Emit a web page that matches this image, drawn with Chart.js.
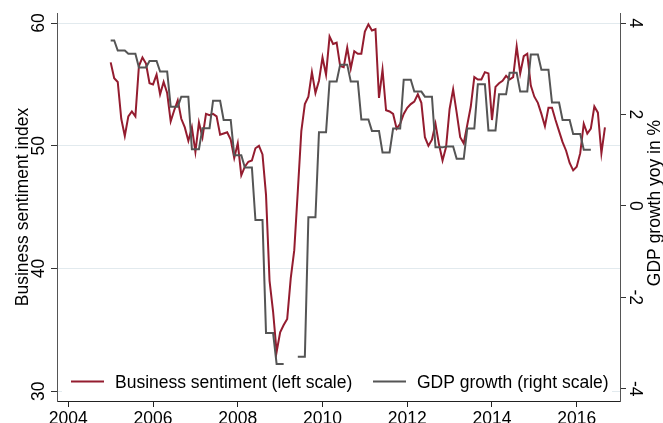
<!DOCTYPE html>
<html>
<head>
<meta charset="utf-8">
<script src="https://cdn.jsdelivr.net/npm/chart.js@4.4.1/dist/chart.umd.min.js"></script>
<style>
  html, body { margin: 0; padding: 0; background: #fff; }
  #wrap { width: 663px; height: 423px; }
</style>
</head>
<body>
<div id="wrap"><canvas id="chart" width="663" height="423"></canvas></div>
<script>
// business sentiment index, monthly from Jan 2005
const sentimentStart = 2005;
const sentiment = [
  56.8, 55.5, 55.2, 52.2, 50.8, 52.4, 52.8, 52.4, 56.5, 57.2, 56.7, 55.1, // 2005
  55.0, 55.8, 54.2, 55.2, 54.3, 52.0, 52.9, 53.7, 52.2, 51.5, 50.4, 51.5, // 2006
  49.5, 51.9, 50.7, 52.6, 52.5, 52.6, 52.4, 50.9, 51.0, 51.1, 50.5, 49.0, // 2007
  50.2, 47.6, 48.3, 48.7, 48.8, 49.8, 50.0, 49.3, 46.0, 39.0, 36.5, 33.2, // 2008
  34.8, 35.4, 35.9, 39.2, 41.5, 46.3, 51.2, 53.4, 54.0, 56.0, 54.3, 55.3, // 2009
  57.2, 55.8, 58.9, 58.3, 58.4, 56.5, 56.4, 58.0, 56.3, 57.7, 57.5, 57.5, // 2010
  59.3, 59.9, 59.4, 59.5, 53.9, 56.2, 52.9, 52.8, 52.6, 51.4, 51.8, 52.6, // 2011
  53.1, 53.4, 53.6, 54.2, 53.5, 50.7, 50.0, 50.5, 51.8, 50.1, 48.8, 49.9, // 2012
  53.0, 54.6, 52.7, 50.7, 50.2, 51.7, 53.2, 55.6, 55.4, 55.4, 56.0, 55.9, // 2013
  52.1, 54.8, 55.1, 55.3, 55.7, 55.4, 55.6, 58.1, 55.9, 57.3, 57.5, 54.9, // 2014
  54.0, 53.5, 52.6, 51.6, 53.1, 53.1, 52.1, 51.2, 50.3, 49.6, 48.6, 48.0, // 2015
  48.3, 49.4, 51.8, 51.0, 51.4, 53.2, 52.7, 49.4, 51.5                    // 2016
];

// GDP growth yoy in %, quarterly from 2005Q1 (2009Q2 falls below the scale, left out)
const gdpStart = 2005;
const gdpGrowth = [
  3.62, 3.40, 3.33, 3.03,   // 2005
  3.17, 2.94, 2.17, 2.39,   // 2006
  1.24, 1.70, 2.30, 1.88,   // 2007
  1.11, 0.84, -0.31, -2.78, // 2008
  -3.46, null, -3.30, -0.25, // 2009
  1.61, 2.72, 3.09, 2.72,   // 2010
  1.89, 1.64, 1.17, 1.69,   // 2011
  2.76, 2.50, 2.39, 1.28,   // 2012
  1.30, 1.03, 1.69, 2.66,   // 2013
  1.65, 2.44, 2.91, 2.50,   // 2014
  3.31, 2.98, 2.26, 1.88,   // 2015
  1.57, 1.23                // 2016
];

const yearTicks = [2004, 2006, 2008, 2010, 2012, 2014, 2016];
const leftTicks = [30, 40, 50, 60];
const rightTicks = [-4, -2, 0, 2, 4];

const leftTitle = 'Business sentiment index';
const rightTitle = 'GDP growth yoy in %';

const FONT = '17.5px "Liberation Sans", Arial, sans-serif';
const RED = '#941c2f';
const GREY = '#555555';

const sentimentPoints = sentiment.map((v, i) => ({ x: sentimentStart + i / 12, y: v }));

// each quarterly figure is held over the month before, of and after its quarter mark
const gdpPoints = [];
gdpGrowth.forEach((v, q) => {
  for (let d = -1; d <= 1; d++) {
    const m = q * 3 + d;
    if (m < 0) continue;
    gdpPoints.push({ x: gdpStart + m / 12, y: v });
  }
});

const setTicks = list => scale => { scale.ticks = list.map(v => ({ value: v })); };

// rotated y tick labels and both axis titles
const axisText = {
  id: 'axisText',
  afterDraw(chart) {
    const ctx = chart.ctx;
    const L = chart.scales.yLeft, R = chart.scales.yRight, area = chart.chartArea;
    const midY = (area.top + area.bottom) / 2;
    const put = (txt, x, y, rot) => {
      ctx.save();
      ctx.translate(x, y);
      ctx.rotate(rot);
      ctx.fillText(txt, 0, 0);
      ctx.restore();
    };
    ctx.save();
    ctx.fillStyle = '#000';
    ctx.font = FONT;
    ctx.textAlign = 'center';
    ctx.textBaseline = 'alphabetic';
    leftTicks.forEach(v => put(String(v), area.left - 13, L.getPixelForValue(v), -Math.PI / 2));
    rightTicks.forEach(v => put(String(v), area.right + 10, R.getPixelForValue(v), Math.PI / 2));
    put(leftTitle, 28, midY, -Math.PI / 2);
    put(rightTitle, 660, midY - 4, -Math.PI / 2);
    ctx.restore();
  }
};

// legend sits inside the plot, over the bottom grid line
const legendBox = {
  id: 'legendBox',
  afterDatasetsDraw(chart) {
    const ctx = chart.ctx, area = chart.chartArea;
    const starts = [71, 373];
    ctx.save();
    ctx.fillStyle = '#fff';
    ctx.fillRect(area.left + 5, 368, area.right - area.left - 13, 28);
    ctx.font = FONT;
    ctx.textAlign = 'left';
    ctx.textBaseline = 'alphabetic';
    chart.data.datasets.forEach((ds, i) => {
      const x0 = starts[i], y = 381.5;
      ctx.strokeStyle = ds.borderColor;
      ctx.lineWidth = 2;
      ctx.beginPath();
      ctx.moveTo(x0, y);
      ctx.lineTo(x0 + 33, y);
      ctx.stroke();
      ctx.fillStyle = '#000';
      ctx.fillText(ds.label, x0 + 44, 387.5);
    });
    ctx.restore();
  }
};

new Chart(document.getElementById('chart'), {
  type: 'line',
  data: {
    datasets: [
      {
        label: 'Business sentiment (left scale)',
        data: sentimentPoints,
        yAxisID: 'yLeft',
        borderColor: RED,
        borderWidth: 2,
        pointRadius: 0,
        tension: 0,
        order: 1
      },
      {
        label: 'GDP growth (right scale)',
        data: gdpPoints,
        yAxisID: 'yRight',
        borderColor: GREY,
        borderWidth: 2,
        pointRadius: 0,
        tension: 0,
        order: 0
      }
    ]
  },
  options: {
    responsive: false,
    animation: false,
    events: [],
    layout: { padding: { top: 13, left: 0, right: 0, bottom: 0 } },
    plugins: { legend: { display: false }, tooltip: { enabled: false } },
    scales: {
      x: {
        type: 'linear',
        position: 'bottom',
        min: 2003.733,
        max: 2017.022,
        afterBuildTicks: setTicks(yearTicks),
        afterFit: s => { s.height = 22; },
        grid: { drawOnChartArea: false, tickLength: 6, tickColor: '#222', tickWidth: 1 },
        border: { color: '#222', width: 1 },
        ticks: {
          font: { family: '"Liberation Sans", Arial, sans-serif', size: 17.5 },
          color: '#000',
          padding: 2,
          maxRotation: 0,
          callback: v => String(v)
        }
      },
      yLeft: {
        type: 'linear',
        position: 'left',
        min: 29.21,
        max: 60.82,
        afterBuildTicks: setTicks(leftTicks),
        afterFit: s => { s.width = 57; },
        grid: { color: '#e2eaee', lineWidth: 1, tickLength: 6, tickColor: '#333' },
        border: { color: '#555', width: 1 },
        ticks: { display: false }
      },
      yRight: {
        type: 'linear',
        position: 'right',
        min: -4.27,
        max: 4.22,
        afterBuildTicks: setTicks(rightTicks),
        afterFit: s => { s.width = 43; },
        grid: { drawOnChartArea: false, tickLength: 6, tickColor: '#333' },
        border: { color: '#555', width: 1 },
        ticks: { display: false }
      }
    }
  },
  plugins: [axisText, legendBox]
});
</script>
</body>
</html>
